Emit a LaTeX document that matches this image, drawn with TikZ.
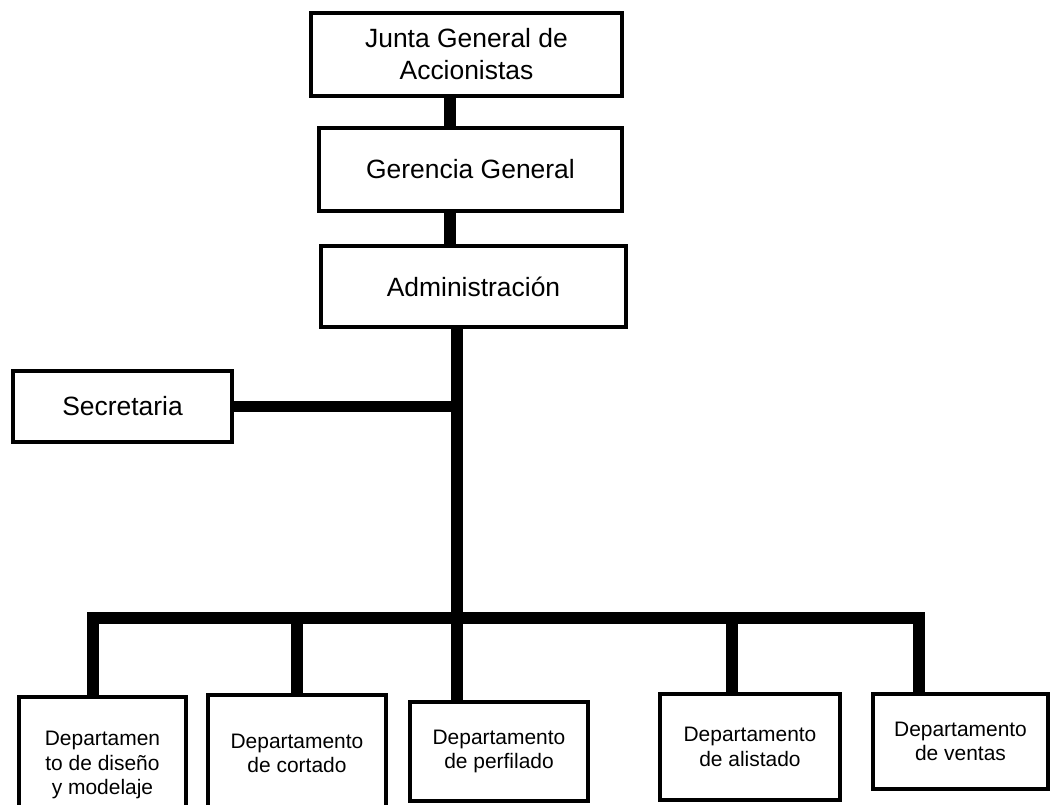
\documentclass[tikz,border=0pt]{standalone}
\usepackage{fontspec}
\setmainfont{Liberation Sans}
\usepackage{tikz}
\usetikzlibrary{positioning}

\begin{document}
\begin{tikzpicture}[
  x=0.025cm, y=-0.025cm,
  box/.style={draw=black, fill=white, line width=2.85pt, align=center, inner sep=2pt, font=\fontsize{18.8}{22.8}\selectfont},
  dept/.style={draw=black, fill=white, line width=2.85pt, align=center, inner sep=2pt, font=\fontsize{14.9}{17.5}\selectfont},
  link/.style={line width=8.2pt, line join=miter, line cap=butt}
]
  \useasboundingbox (0,0) rectangle (1052,804);
  \clip (0,0) rectangle (1052,804);

  %% Upper chain
  \node[box, minimum width=7.775cm, minimum height=2.075cm] (jgda) at (466.5,54.5) {Junta General de\\Accionistas};
  \node[box, minimum width=7.575cm, minimum height=2.075cm] (gg) at (470.5,169.5) {Gerencia General};
  \node[box, minimum width=7.625cm, minimum height=2.025cm] (adm) at (473.5,286.5) {Administración};
  \node[box, minimum width=5.475cm, minimum height=1.775cm] (sec) at (122.5,406.5) {Secretaria};

  %% Departments
  \node[dept, minimum width=4.175cm, minimum height=3.4cm] (dis) at (102.5,765) {Departamen\\to de diseño\\y modelaje};
  \node[dept, minimum width=4.45cm, minimum height=2.925cm] (cor) at (297,753.5) {Departamento\\de cortado};
  \node[dept, minimum width=4.45cm, minimum height=2.475cm] (per) at (499,751.5) {Departamento\\de perfilado};
  \node[dept, minimum width=4.5cm, minimum height=2.65cm] (ali) at (750,747) {Departamento\\de alistado};
  \node[dept, minimum width=4.375cm, minimum height=2.375cm] (ven) at (960.5,741.5) {Departamento\\de ventas};

  %% Connector positions
  \coordinate (up) at (450,0);
  \coordinate (spine) at (457,0);
  \coordinate (d1) at (93,618);
  \coordinate (d4) at (732,618);
  \coordinate (d5) at (919,618);

  %% Connectors
  \draw[link] (jgda.south -| up) -- (gg.north -| up);
  \draw[link] (gg.south -| up) -- (adm.north -| up);
  \draw[link] (adm.south -| spine) -- (per.north -| spine);
  \draw[link] (sec.east) -- (sec.east -| spine);
  \draw[link] (dis.north -| d1) -- (d1) -- (d5) -- (ven.north -| d5);
  \draw[link] (d1 -| cor.north) -- (cor.north);
  \draw[link] (d4) -- (ali.north -| d4);
\end{tikzpicture}
\end{document}
